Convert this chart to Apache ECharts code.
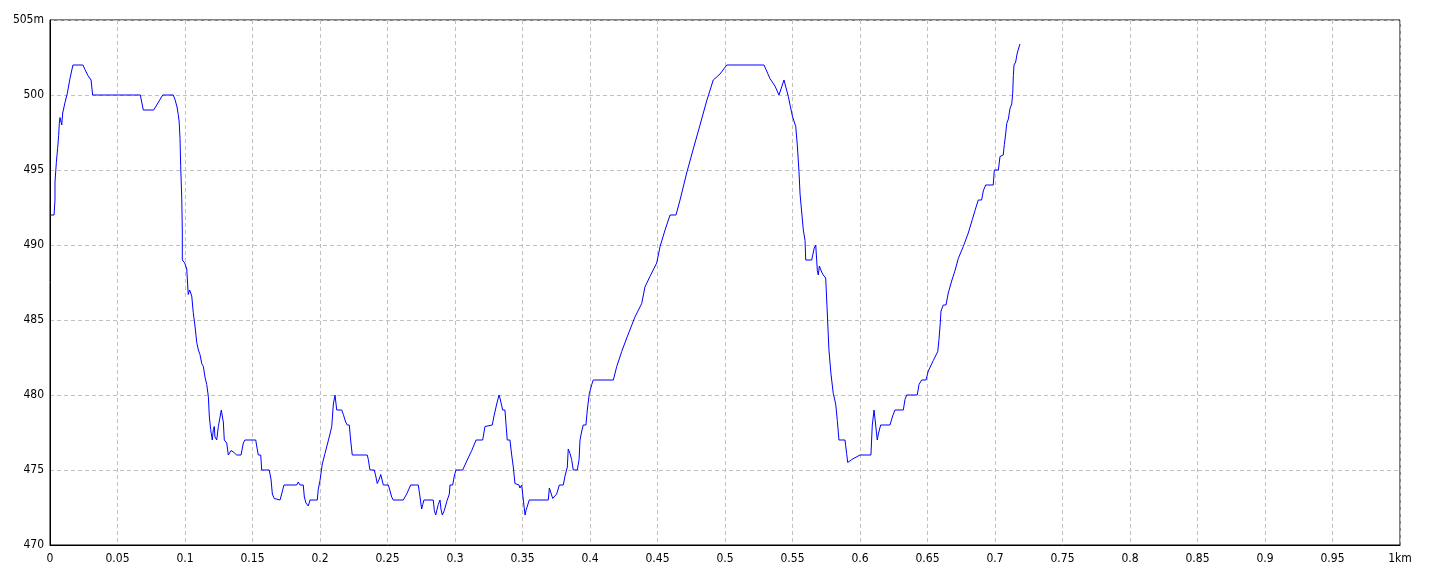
<!DOCTYPE html>
<html>
<head>
<meta charset="utf-8">
<script src="https://cdn.jsdelivr.net/npm/echarts@6/dist/echarts.min.js"></script>
<style>
html,body{margin:0;padding:0;background:#fff;}
#chart{width:1440px;height:576px;}
</style>
</head>
<body>
<div id="chart"></div>
<script>
// Distance along the route (km)
const distanceKm = [
0.0007,0.0030,0.0037,0.0037,0.0047,0.0057,0.0064,0.0069,0.0074,0.0087,0.0094,0.0111,0.0128,0.0148,0.0170,
0.0244,0.0259,0.0281,0.0304,0.0316,0.0669,0.0691,0.0768,0.0835,0.0913,0.0926,0.0941,0.0950,0.0957,0.0963,
0.0968,0.0976,0.0980,0.0980,0.0998,0.1013,0.1024,0.1034,0.1050,0.1061,0.1074,0.1087,0.1099,0.1111,0.1124,
0.1136,0.1148,0.1161,0.1173,0.1180,0.1190,0.1202,0.1210,0.1217,0.1222,0.1235,0.1247,0.1259,0.1269,0.1276,
0.1284,0.1291,0.1309,0.1321,0.1333,0.1341,0.1358,0.1383,0.1415,0.1432,0.1444,0.1524,0.1531,0.1543,0.1561,
0.1568,0.1624,0.1637,0.1647,0.1661,0.1674,0.1704,0.1716,0.1733,0.1827,0.1839,0.1852,0.1876,0.1884,0.1896,
0.1913,0.1926,0.1980,0.1987,0.2000,0.2017,0.2037,0.2057,0.2074,0.2087,0.2099,0.2111,0.2124,0.2161,0.2173,
0.2190,0.2202,0.2217,0.2227,0.2239,0.2350,0.2358,0.2370,0.2402,0.2413,0.2424,0.2432,0.2439,0.2450,0.2459,
0.2469,0.2506,0.2519,0.2531,0.2543,0.2617,0.2642,0.2672,0.2728,0.2741,0.2753,0.2761,0.2770,0.2839,0.2847,
0.2857,0.2869,0.2876,0.2889,0.2896,0.2906,0.2921,0.2939,0.2958,0.2963,0.2983,0.2995,0.3007,0.3057,0.3087,
0.3124,0.3156,0.3205,0.3222,0.3235,0.3276,0.3289,0.3309,0.3326,0.3333,0.3353,0.3370,0.3387,0.3407,0.3420,
0.3432,0.3444,0.3457,0.3474,0.3481,0.3494,0.3501,0.3511,0.3519,0.3526,0.3536,0.3550,0.3691,0.3699,0.3711,
0.3724,0.3733,0.3753,0.3773,0.3802,0.3815,0.3832,0.3839,0.3852,0.3864,0.3876,0.3906,0.3919,0.3926,0.3939,
0.3950,0.3970,0.3980,0.3995,0.4013,0.4024,0.4173,0.4198,0.4235,0.4272,0.4333,0.4383,0.4407,0.4444,0.4494,
0.4519,0.4556,0.4593,0.4637,0.4667,0.4716,0.4765,0.4815,0.4864,0.4913,0.4963,0.5013,0.5289,0.5333,0.5370,
0.5400,0.5437,0.5469,0.5499,0.5524,0.5536,0.5548,0.5556,0.5568,0.5580,0.5593,0.5598,0.5642,0.5661,0.5672,
0.5684,0.5691,0.5699,0.5716,0.5728,0.5746,0.5758,0.5770,0.5785,0.5802,0.5820,0.5832,0.5844,0.5889,0.5901,
0.5909,0.5939,0.6000,0.6081,0.6091,0.6104,0.6116,0.6128,0.6136,0.6153,0.6222,0.6242,0.6259,0.6321,0.6333,
0.6346,0.6424,0.6437,0.6457,0.6489,0.6506,0.6543,0.6576,0.6585,0.6593,0.6600,0.6617,0.6637,0.6654,0.6679,
0.6704,0.6728,0.6765,0.6802,0.6832,0.6852,0.6876,0.6901,0.6913,0.6931,0.6987,0.6995,0.7025,0.7037,0.7061,
0.7069,0.7079,0.7087,0.7099,0.7111,0.7124,0.7131,0.7136,0.7141,0.7153,0.7165,0.7178,0.7185
];
// Elevation (m)
const elevationM = [
492.0,492.0,493.0,494.2,495.5,496.5,497.3,498.1,498.5,498.0,498.8,499.5,500.1,501.1,502.0,
502.0,501.7,501.3,501.0,500.0,500.0,499.0,499.0,500.0,500.0,499.7,499.2,498.7,498.2,497.1,
495.3,493.1,491.0,489.0,488.8,488.4,486.7,487.0,486.6,485.5,484.6,483.5,483.0,482.7,482.1,
481.9,481.2,480.7,479.9,478.6,477.7,477.0,477.7,477.9,477.2,477.0,477.9,478.0,479.0,478.6,
478.2,477.0,476.8,476.0,476.0,476.3,476.2,476.0,476.0,476.8,477.0,477.0,476.6,476.0,476.0,
475.0,475.0,474.4,473.4,473.1,473.0,473.0,473.4,474.0,474.0,474.2,474.0,474.0,473.2,472.8,
472.6,473.0,473.0,473.7,474.3,475.4,476.1,476.8,477.4,477.9,479.4,480.0,479.0,479.0,478.7,
478.2,478.0,478.0,477.0,476.0,476.0,475.7,475.0,475.0,474.6,474.1,474.0,474.4,474.7,474.6,
474.0,474.0,473.6,473.2,473.0,473.0,473.4,474.0,474.0,473.2,472.4,472.7,473.0,473.0,472.3,
472.0,472.0,472.7,473.0,472.4,472.0,472.3,472.9,473.4,474.0,474.0,474.6,475.0,475.0,475.6,
476.3,477.0,477.0,477.9,478.0,478.0,478.6,479.4,480.0,479.8,479.0,479.0,477.0,477.0,476.0,
475.2,474.1,474.0,474.0,473.8,474.0,473.9,472.6,472.0,472.3,472.6,473.0,473.0,473.8,473.8,
473.1,473.0,473.4,474.0,474.0,474.6,475.2,476.4,476.1,475.7,475.0,475.0,475.7,477.0,477.6,
478.0,478.0,479.0,480.1,480.7,481.0,481.0,481.9,482.9,483.8,485.2,486.1,487.2,487.9,488.8,
489.9,491.0,492.0,492.0,493.0,494.8,496.4,498.0,499.6,501.0,501.4,502.0,502.0,501.1,500.6,
500.0,501.0,499.9,498.6,497.9,496.6,494.9,493.4,492.2,491.0,490.3,489.0,489.0,489.8,490.0,
488.3,488.0,488.6,488.2,488.0,487.8,485.4,483.0,481.4,480.1,479.4,478.3,477.0,477.0,476.1,
475.5,475.7,476.0,476.0,478.0,479.0,478.0,477.0,477.4,478.0,478.0,478.6,479.0,479.0,479.7,
480.0,480.0,480.7,481.0,481.0,481.6,482.3,482.9,483.7,484.6,485.6,486.0,486.0,486.8,487.6,
488.3,489.1,489.9,490.8,491.7,492.3,493.0,493.0,493.6,494.0,494.0,495.0,495.0,495.9,496.0,
496.7,497.4,498.1,498.4,499.1,499.4,500.1,501.3,502.0,502.2,502.8,503.2,503.4
];
const xRange = [0, 1, 0.05];      // min, max, interval (km)
const yRange = [470, 505, 5];     // min, max, interval (m)
const xUnit = 'km';
const yUnit = 'm';

const points = distanceKm.map((d, i) => [d, elevationM[i]]);
const font = '"Liberation Sans Narrow", "DejaVu Sans Condensed", "Liberation Sans", sans-serif';

const chart = echarts.init(document.getElementById('chart'), null, {renderer: 'canvas'});
chart.setOption({
  animation: false,
  backgroundColor: '#ffffff',
  grid: {
    left: 50, right: 40, top: 20, bottom: 31,
    show: true, borderColor: '#000000', borderWidth: 1, backgroundColor: 'transparent'
  },
  xAxis: {
    type: 'value',
    min: xRange[0], max: xRange[1], interval: xRange[2],
    axisLine: {show: true, lineStyle: {color: '#000000', width: 1}},
    axisTick: {show: false},
    splitLine: {show: true, lineStyle: {color: '#c0c0c0', type: [4, 3], width: 1}},
    axisLabel: {
      color: '#000000', fontFamily: font, fontSize: 12, margin: 8,
      formatter: v => {
        const r = Math.round(v * 100) / 100;
        return r === xRange[1] ? r + xUnit : String(r);
      }
    }
  },
  yAxis: {
    type: 'value',
    min: yRange[0], max: yRange[1], interval: yRange[2],
    axisLine: {show: true, lineStyle: {color: '#000000', width: 1}},
    axisTick: {show: false},
    splitLine: {show: true, lineStyle: {color: '#c0c0c0', type: [4, 3], width: 1}},
    axisLabel: {
      color: '#000000', fontFamily: font, fontSize: 12, margin: 6,
      formatter: v => v === yRange[1] ? v + yUnit : String(v)
    }
  },
  series: [{
    type: 'line',
    data: points,
    showSymbol: false,
    symbol: 'none',
    lineStyle: {color: '#0000ff', width: 1},
    silent: true
  }]
});
</script>
</body>
</html>
